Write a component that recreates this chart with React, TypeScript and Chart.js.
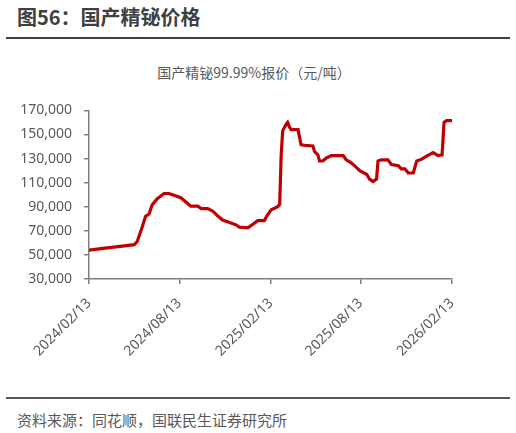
import React, { useEffect, useRef } from 'react';
import { Chart, registerables } from 'chart.js';

Chart.register(...registerables);

const startDate = '2024-02-13';

const dates = [
  '2024-02-13', '2024-03-04', '2024-04-03', '2024-04-24', '2024-05-14', '2024-05-20',
  '2024-05-30', '2024-06-06', '2024-06-13', '2024-06-19', '2024-06-29', '2024-07-13',
  '2024-07-23', '2024-08-02', '2024-08-16', '2024-08-26', '2024-09-05', '2024-09-19',
  '2024-09-26', '2024-10-09', '2024-10-19', '2024-10-29', '2024-11-08', '2024-11-22',
  '2024-12-05', '2024-12-12', '2024-12-29', '2025-01-08', '2025-01-18', '2025-01-31',
  '2025-02-07', '2025-02-14', '2025-02-27', '2025-03-03', '2025-03-06', '2025-03-09',
  '2025-03-16', '2025-03-19', '2025-03-23', '2025-03-26', '2025-04-09', '2025-04-15',
  '2025-04-22', '2025-05-09', '2025-05-12', '2025-05-19', '2025-05-22', '2025-05-29',
  '2025-06-05', '2025-06-15', '2025-07-09', '2025-07-15', '2025-07-25', '2025-08-05',
  '2025-08-11', '2025-08-25', '2025-08-31', '2025-09-07', '2025-09-14', '2025-09-17',
  '2025-09-24', '2025-10-07', '2025-10-14', '2025-10-28', '2025-11-03', '2025-11-10',
  '2025-11-17', '2025-11-27', '2025-12-04', '2025-12-14', '2025-12-24', '2026-01-06',
  '2026-01-16', '2026-01-24', '2026-01-28', '2026-02-02', '2026-02-13',
];

const prices = [
  54000, 55000, 56500, 57500, 58500, 61000,
  73000, 82000, 84000, 91500, 96500, 101000,
  101000, 99500, 97500, 94000, 90500, 90500,
  88500, 88500, 86500, 82500, 79000, 77000,
  75000, 73000, 72500, 75500, 78500, 78500,
  83500, 87500, 90000, 92000, 133000, 153000,
  158500, 160000, 156000, 154000, 154000, 141500,
  141000, 140500, 136000, 133000, 128000, 128000,
  130500, 132500, 132500, 129000, 126500, 122500,
  120000, 117000, 113000, 111000, 113000, 128000,
  129000, 129000, 125000, 124000, 121500, 121500,
  118000, 118000, 128000, 129500, 132000, 135000,
  132500, 133000, 160000, 161500, 161500,
];

const tickLabels = ['2024/02/13', '2024/08/13', '2025/02/13', '2025/08/13', '2026/02/13'];

const yMin = 30000;
const yMax = 170000;
const yStep = 20000;

const pageTitle = '图56：国产精铋价格';
const chartTitle = '国产精铋99.99%报价（元/吨）';
const sourceText = '资料来源：同花顺，国联民生证券研究所';

const DAY = 86400000;
const toDay = (s: string) => (Date.parse(s) - Date.parse(startDate)) / DAY;

const FONT = '"Noto Sans", "Noto Sans CJK SC", sans-serif';
const CJK = '"Noto Sans CJK SC", "Noto Sans", sans-serif';

export default function App() {
  const ref = useRef<HTMLCanvasElement>(null);

  useEffect(() => {
    document.body.style.margin = '0';
    const tickDays = tickLabels.map((l) => toDay(l.replace(/\//g, '-')));
    const axisColor = '#7f7f7f';
    const chart = new Chart(ref.current as HTMLCanvasElement, {
      type: 'line',
      data: {
        datasets: [
          {
            data: dates.map((d, i) => ({ x: toDay(d), y: prices[i] })),
            borderColor: '#C00000',
            borderWidth: 3.2,
            pointRadius: 0,
            tension: 0,
            fill: false,
          },
        ],
      },
      options: {
        animation: false,
        responsive: false,
        maintainAspectRatio: false,
        layout: { padding: { top: 14, right: 64, left: 0, bottom: 0 } },
        plugins: {
          legend: { display: false },
          tooltip: { enabled: false },
          title: { display: false },
        },
        scales: {
          x: {
            type: 'linear',
            min: 0,
            max: tickDays[tickDays.length - 1],
            afterBuildTicks: (s: any) => {
              s.ticks = tickDays.map((v) => ({ value: v }));
            },
            afterFit: (s: any) => {
              s.height = 111;
            },
            ticks: {
              minRotation: 45,
              maxRotation: 45,
              autoSkip: false,
              padding: 11,
              color: '#595959',
              font: { family: FONT, size: 14 },
              callback: (v: any) => {
                const i = tickDays.indexOf(Number(v));
                return i >= 0 ? tickLabels[i] : '';
              },
            },
            grid: {
              drawOnChartArea: false,
              drawTicks: true,
              tickLength: 5,
              color: axisColor,
              lineWidth: 1.5,
            },
            border: { color: axisColor, width: 1.5 },
          },
          y: {
            min: yMin,
            max: yMax,
            afterFit: (s: any) => {
              s.width = 89;
            },
            ticks: {
              stepSize: yStep,
              padding: 12,
              color: '#595959',
              font: { family: FONT, size: 14 },
              callback: (v: any) => Number(v).toLocaleString('en-US'),
            },
            grid: {
              drawOnChartArea: false,
              drawTicks: true,
              tickLength: 5,
              color: axisColor,
              lineWidth: 1.5,
            },
            border: { color: axisColor, width: 1.5 },
          },
        },
      },
    });
    return () => chart.destroy();
  }, []);

  return (
    <div style={{ position: 'absolute', left: 0, top: 0, width: 516, height: 433, background: '#fff', overflow: 'hidden' }}>
      <div style={{ position: 'absolute', left: 17, top: 3, fontFamily: CJK, fontWeight: 700, fontSize: 20, lineHeight: '28px', color: '#404040', whiteSpace: 'nowrap' }}>
        {pageTitle}
      </div>
      <div style={{ position: 'absolute', left: 6, top: 37, width: 504, height: 2, background: '#404040' }} />
      <div style={{ position: 'absolute', left: 0, width: 516, top: 62, textAlign: 'center', fontFamily: CJK, fontSize: 14, lineHeight: '20px', color: '#595959' }}>
        <span style={{ position: 'relative', left: -4 }}>{chartTitle}</span>
      </div>
      <div style={{ position: 'absolute', left: 0, top: 90, width: 516, height: 300 }}>
        <canvas ref={ref} width={516} height={300} style={{ display: 'block', width: 516, height: 300 }} />
      </div>
      <div style={{ position: 'absolute', left: 6, top: 397, width: 504, height: 1.5, background: '#595959' }} />
      <div style={{ position: 'absolute', left: 17, top: 409, fontFamily: CJK, fontSize: 15, lineHeight: '22px', color: '#595959', whiteSpace: 'nowrap' }}>
        {sourceText}
      </div>
    </div>
  );
}
